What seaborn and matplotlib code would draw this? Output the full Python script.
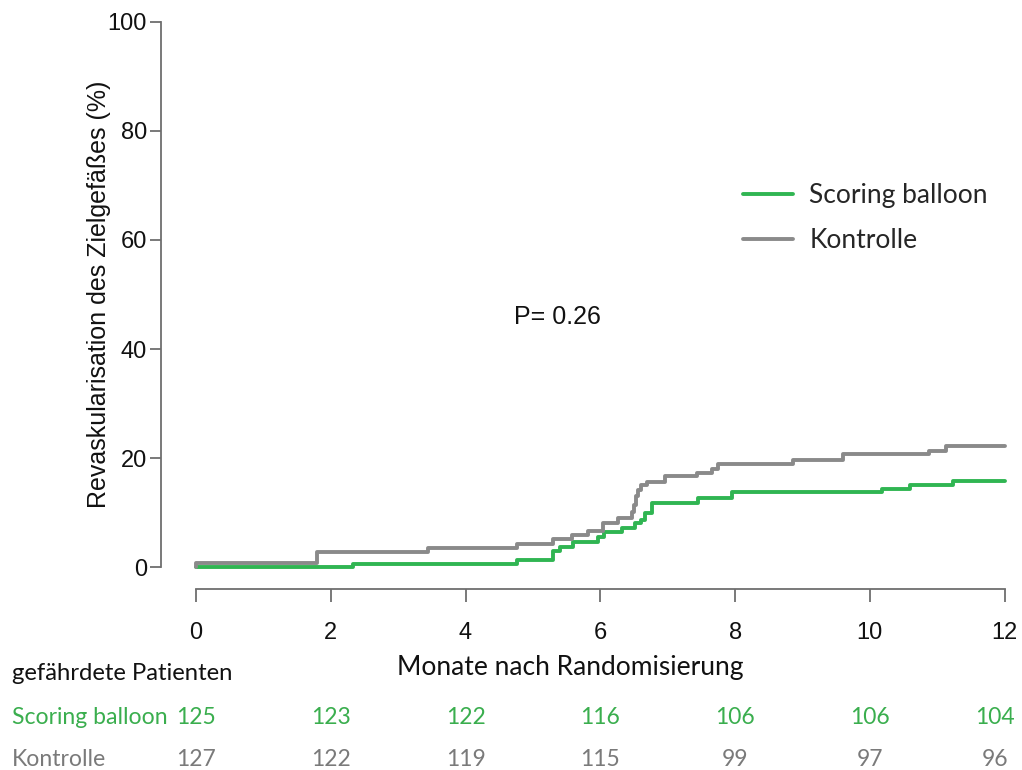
import numpy as np
import pandas as pd
import matplotlib
matplotlib.use("Agg")
import matplotlib.pyplot as plt
import matplotlib.transforms as mtransforms
import seaborn as sns

# Cumulative target-vessel revascularisation (%) over months after randomisation
scoring_t = [0, 2.33, 4.77, 5.30, 5.40, 5.60, 5.96, 6.05, 6.32, 6.51, 6.60, 6.67, 6.76,
             7.45, 7.95, 10.18, 10.60, 11.24, 12.0]
scoring_v = [0, 0.6, 1.4, 2.9, 3.7, 4.7, 5.6, 6.4, 7.2, 8.1, 8.7, 10.0, 11.8,
             12.7, 13.8, 14.3, 15.0, 15.9, 15.9]

kontrolle_t = [0, 0, 1.80, 3.44, 4.77, 5.30, 5.58, 5.82, 6.04, 6.26, 6.47, 6.50, 6.53,
               6.56, 6.60, 6.69, 6.96, 7.43, 7.65, 7.75, 8.86, 9.60, 10.88, 11.13, 12.0]
kontrolle_v = [0, 0.8, 2.8, 3.6, 4.3, 5.1, 6.0, 6.7, 8.2, 9.0, 10.1, 11.5, 13.0,
               14.2, 15.0, 15.7, 16.7, 17.3, 18.0, 19.0, 19.7, 20.7, 21.4, 22.2, 22.2]

groups = ["Scoring balloon", "Kontrolle"]
risk_months = [0, 2, 4, 6, 8, 10, 12]
risk_scoring = [125, 123, 122, 116, 106, 106, 104]
risk_kontrolle = [127, 122, 119, 115, 99, 97, 96]

x_ticks = [0, 2, 4, 6, 8, 10, 12]
y_ticks = [0, 20, 40, 60, 80, 100]
p_text = "P= 0.26"

green = "#30b552"
grey = "#8a8a8a"
green_txt = "#3aae4e"
grey_txt = "#7a7a7a"

df = pd.concat([
    pd.DataFrame({"Monat": scoring_t, "Rate": scoring_v, "Gruppe": groups[0]}),
    pd.DataFrame({"Monat": kontrolle_t, "Rate": kontrolle_v, "Gruppe": groups[1]}),
], ignore_index=True)

sns.set_theme(style="white")
plt.rcParams["font.family"] = ["Liberation Sans", "DejaVu Sans"]

fig = plt.figure(figsize=(10.22, 7.70), dpi=100)
ax = fig.add_axes([0.1575, 0.235, 0.842, 0.765])

sns.lineplot(data=df, x="Monat", y="Rate", hue="Gruppe", hue_order=groups,
             palette=[green, grey], estimator=None, sort=False,
             drawstyle="steps-post", linewidth=2.8, ax=ax, legend=False)

ax.set_xlim(-0.52, 12.25)
ax.set_ylim(-4, 104)
ax.set_xticks(x_ticks)
ax.set_yticks(y_ticks)
ax.set_xticklabels([str(v) for v in x_ticks], fontsize=17, color="#111111")
ax.set_yticklabels([str(v) for v in y_ticks], fontsize=17, color="#111111")

for side in ["top", "right"]:
    ax.spines[side].set_visible(False)
ax.spines["left"].set_bounds(0, 100)
ax.spines["bottom"].set_bounds(0, 12)
for side in ["left", "bottom"]:
    ax.spines[side].set_color("#6e6e6e")
    ax.spines[side].set_linewidth(1.3)
ax.tick_params(axis="y", length=8, width=1.3, color="#6e6e6e", pad=2, left=True)
ax.tick_params(axis="x", length=9, width=1.3, color="#6e6e6e", pad=15, bottom=True)

ax.set_xlabel("")
ax.set_ylabel("Revaskularisation des Zielgefäßes (%)", fontsize=18, color="#111111")
ax.yaxis.set_label_coords(-0.058, 0.5)

ax.text(5.36, 45.8, p_text, fontsize=18, ha="center", va="center", color="#111111")

# Legend
handles = [plt.Line2D([], [], color=green, lw=2.8), plt.Line2D([], [], color=grey, lw=2.8)]
leg = ax.legend(handles, groups, loc="upper left", bbox_to_anchor=(0.649, 0.730),
                frameon=False, handlelength=1.9, handletextpad=0.6, labelspacing=0.78,
                prop={"family": "Lato", "size": 19})

# Number-at-risk table below the axis
calibri_like = "Lato"
fig.text(570 / 1022, 1 - 667 / 770, "Monate nach Randomisierung", family=calibri_like,
         fontsize=19, ha="center", va="center", color="#111111")
fig.text(12 / 1022, 1 - 673 / 770, "gefährdete Patienten", family=calibri_like,
         fontsize=17.2, ha="left", va="center", color="#111111")
fig.text(12 / 1022, 1 - 718 / 770, groups[0], family=calibri_like,
         fontsize=16.6, ha="left", va="center", color=green_txt)
fig.text(12 / 1022, 1 - 760 / 770, groups[1], family=calibri_like,
         fontsize=16.6, ha="left", va="center", color=grey_txt)

# the last column is pulled slightly inward so it stays inside the figure
trans = mtransforms.blended_transform_factory(ax.transData, fig.transFigure)
last = len(risk_months) - 1
for i, (m, a, b) in enumerate(zip(risk_months, risk_scoring, risk_kontrolle)):
    xpos = m - 0.14 if i == last else m
    ax.text(xpos, 1 - 718 / 770, str(a), transform=trans, family=calibri_like, fontsize=16.5,
            ha="center", va="center", color=green_txt, clip_on=False)
    ax.text(xpos, 1 - 760 / 770, str(b), transform=trans, family=calibri_like, fontsize=16.5,
            ha="center", va="center", color=grey_txt, clip_on=False)

fig.savefig("out.png", dpi=100)
